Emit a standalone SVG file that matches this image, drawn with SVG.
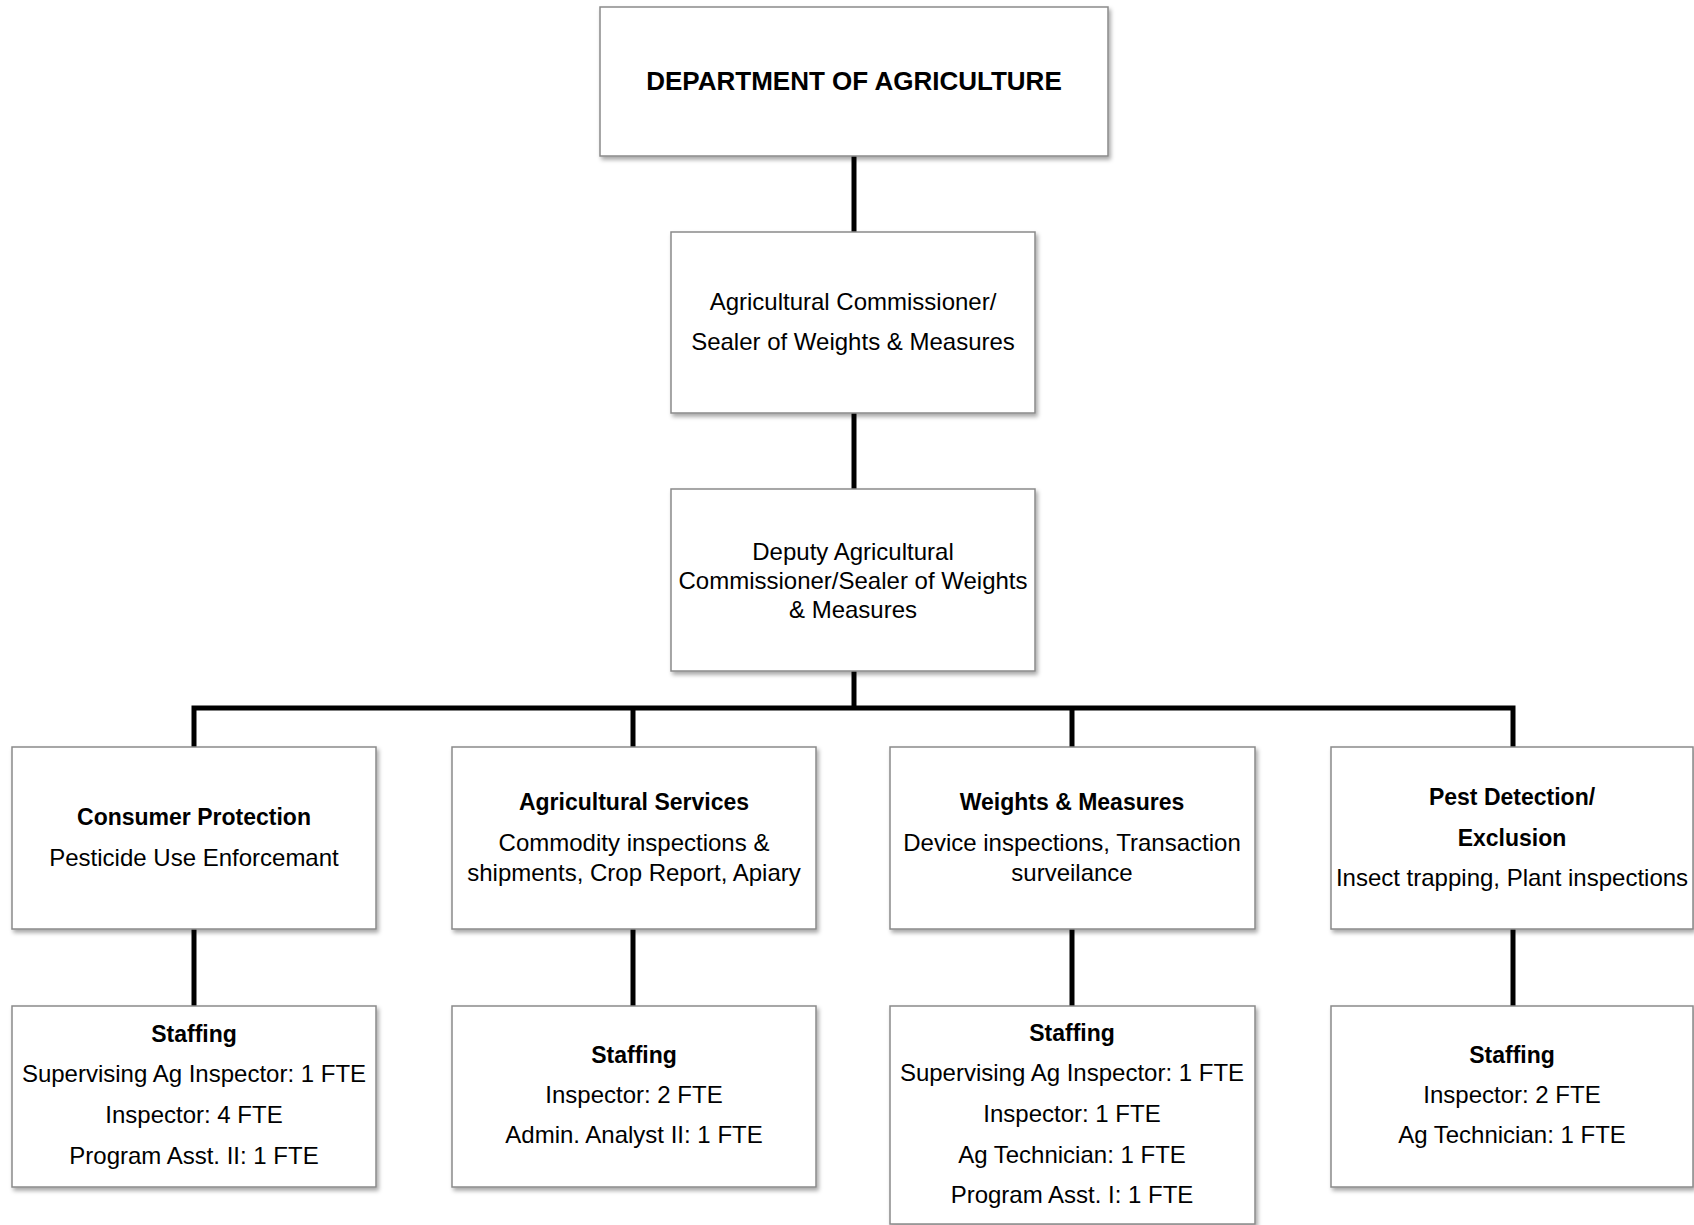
<svg xmlns="http://www.w3.org/2000/svg" width="1694" height="1225" viewBox="0 0 1694 1225">
<style>
.box{fill:#ffffff;stroke:#8a8a8a;stroke-width:1.5;filter:url(#sh)}
.t{font-family:"Liberation Sans",Arial,sans-serif;font-size:24px;fill:#000;text-anchor:middle}
.b{font-family:"Liberation Sans",Arial,sans-serif;font-size:23px;font-weight:bold;fill:#000;text-anchor:middle}
.title{font-family:"Liberation Sans",Arial,sans-serif;font-size:26px;font-weight:bold;fill:#000;text-anchor:middle}
.c{stroke:#000;stroke-width:5;fill:none}
</style>
<defs>
<filter id="sh" x="-5%" y="-5%" width="112%" height="115%">
<feDropShadow dx="2" dy="3" stdDeviation="2" flood-color="#000" flood-opacity="0.35"/>
</filter>
</defs>
<rect width="1694" height="1225" fill="#fff"/>
<g id="connectors">
<line class="c" x1="854" y1="156" x2="854" y2="232"/>
<line class="c" x1="854" y1="413" x2="854" y2="489"/>
<line class="c" x1="854" y1="671" x2="854" y2="708"/>
<polyline class="c" points="194,747 194,708 1513,708 1513,747"/>
<line class="c" x1="633" y1="708" x2="633" y2="747"/>
<line class="c" x1="1072" y1="708" x2="1072" y2="747"/>
<line class="c" x1="194" y1="929" x2="194" y2="1006"/>
<line class="c" x1="633" y1="929" x2="633" y2="1006"/>
<line class="c" x1="1072" y1="929" x2="1072" y2="1006"/>
<line class="c" x1="1513" y1="929" x2="1513" y2="1006"/>
</g>
<g id="dept">
<rect class="box" x="600" y="7" width="508" height="149"/>
<text class="title" x="854" y="90">DEPARTMENT OF AGRICULTURE</text>
</g>
<g id="commissioner">
<rect class="box" x="671" y="232" width="364" height="181"/>
<text class="t" x="853" y="310">Agricultural Commissioner/</text>
<text class="t" x="853" y="350">Sealer of Weights &amp; Measures</text>
</g>
<g id="deputy">
<rect class="box" x="671" y="489" width="364" height="182"/>
<text class="t" x="853" y="560">Deputy Agricultural</text>
<text class="t" x="853" y="589">Commissioner/Sealer of Weights</text>
<text class="t" x="853" y="618">&amp; Measures</text>
</g>
<g id="consumer">
<rect class="box" x="12" y="747" width="364" height="182"/>
<text class="b" x="194" y="825">Consumer Protection</text>
<text class="t" x="194" y="866">Pesticide Use Enforcemant</text>
</g>
<g id="agservices">
<rect class="box" x="452" y="747" width="364" height="182"/>
<text class="b" x="634" y="810">Agricultural Services</text>
<text class="t" x="634" y="851">Commodity inspections &amp;</text>
<text class="t" x="634" y="881">shipments, Crop Report, Apiary</text>
</g>
<g id="weights">
<rect class="box" x="890" y="747" width="365" height="182"/>
<text class="b" x="1072" y="810">Weights &amp; Measures</text>
<text class="t" x="1072" y="851">Device inspections, Transaction</text>
<text class="t" x="1072" y="881">surveilance</text>
</g>
<g id="pest">
<rect class="box" x="1331" y="747" width="362" height="182"/>
<text class="b" x="1512" y="805">Pest Detection/</text>
<text class="b" x="1512" y="846">Exclusion</text>
<text class="t" x="1512" y="886">Insect trapping, Plant inspections</text>
</g>
<g id="staff-consumer">
<rect class="box" x="12" y="1006" width="364" height="181"/>
<text class="b" x="194" y="1042">Staffing</text>
<text class="t" x="194" y="1082">Supervising Ag Inspector: 1 FTE</text>
<text class="t" x="194" y="1123">Inspector: 4 FTE</text>
<text class="t" x="194" y="1164">Program Asst. II: 1 FTE</text>
</g>
<g id="staff-agservices">
<rect class="box" x="452" y="1006" width="364" height="181"/>
<text class="b" x="634" y="1063">Staffing</text>
<text class="t" x="634" y="1103">Inspector: 2 FTE</text>
<text class="t" x="634" y="1143">Admin. Analyst II: 1 FTE</text>
</g>
<g id="staff-weights">
<rect class="box" x="890" y="1006" width="365" height="218"/>
<text class="b" x="1072" y="1041">Staffing</text>
<text class="t" x="1072" y="1081">Supervising Ag Inspector: 1 FTE</text>
<text class="t" x="1072" y="1122">Inspector: 1 FTE</text>
<text class="t" x="1072" y="1163">Ag Technician: 1 FTE</text>
<text class="t" x="1072" y="1203">Program Asst. I: 1 FTE</text>
</g>
<g id="staff-pest">
<rect class="box" x="1331" y="1006" width="362" height="181"/>
<text class="b" x="1512" y="1063">Staffing</text>
<text class="t" x="1512" y="1103">Inspector: 2 FTE</text>
<text class="t" x="1512" y="1143">Ag Technician: 1 FTE</text>
</g>
</svg>
